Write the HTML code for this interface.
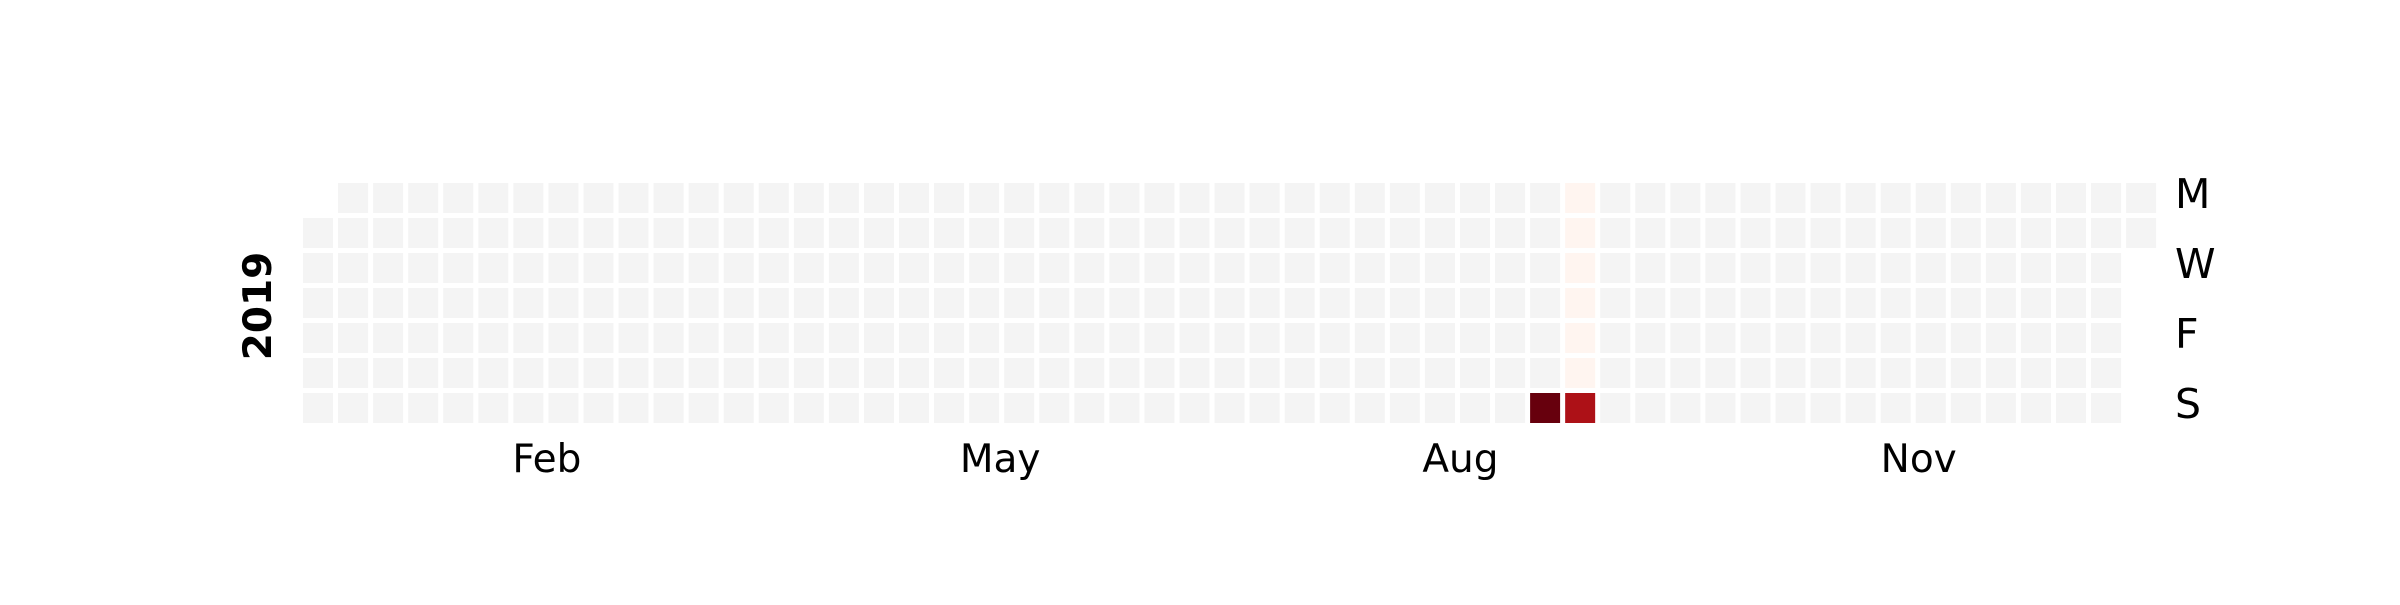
<!DOCTYPE html>
<html><head><meta charset="utf-8"><style>
html,body{margin:0;padding:0;background:#fff}
svg text{font-family:"DejaVu Sans","Liberation Sans",sans-serif}
</style></head><body>
<svg id="chart" width="2400" height="600" viewBox="0 0 2400 600" xmlns="http://www.w3.org/2000/svg">
<rect width="2400" height="600" fill="#fff"/>
<g id="cells"></g>
<g id="labels"></g>
<text x="0" y="0" transform="translate(271,306) rotate(-90)" text-anchor="middle" font-weight="bold" font-size="39">2019</text>
</svg>
<script>
const year = 2019;
const activeDates = ["2019-09-08","2019-09-09","2019-09-10","2019-09-11","2019-09-12","2019-09-13","2019-09-14","2019-09-15"];
const activeValues = [20,0,0,0,0,0,0,17];
const dayLabels = ["M","W","F","S"];
const dayLabelRows = [0,2,4,6];
const monthLabels = ["Feb","May","Aug","Nov"];
const monthIndex = [1,4,7,10];

const X0 = 303, Y0 = 183, PITCH = 35.06, CELL = 30;
const NS = "http://www.w3.org/2000/svg";
const stops = ["#fff5f0","#fee0d2","#fcbba1","#fc9272","#fb6a4a","#ef3b2c","#cb181d","#a50f15","#67000d"];
function hex(c){return [1,3,5].map(i=>parseInt(c.substr(i,2),16));}
function reds(t){t=Math.max(0,Math.min(1,t));const p=t*(stops.length-1);const i=Math.min(stops.length-2,Math.floor(p));const f=p-i;const a=hex(stops[i]),b=hex(stops[i+1]);return "rgb("+a.map((v,k)=>Math.round(v+(b[k]-v)*f)).join(",")+")";}
const vmax = Math.max(...activeValues);
const valMap = {};
activeDates.forEach((d,i)=>valMap[d]=activeValues[i]);
const jan1 = new Date(Date.UTC(year,0,1));
const startOffset = (jan1.getUTCDay()+6)%7;
function xOf(col){return X0+col*PITCH;}
function yOf(row){return Y0+row*35;}
const cells = document.getElementById('cells');
const monthCols = {};
for(let d=new Date(jan1); d.getUTCFullYear()===year; d.setUTCDate(d.getUTCDate()+1)){
  const doy = Math.round((d-jan1)/86400000);
  const idx = doy+startOffset;
  const col = Math.floor(idx/7), row = idx%7;
  const m = d.getUTCMonth();
  (monthCols[m]=monthCols[m]||[]).push(col);
  const key = d.toISOString().slice(0,10);
  const r = document.createElementNS(NS,'rect');
  
  
  r.setAttribute('x',xOf(col)); r.setAttribute('y',yOf(row));
  r.setAttribute('width',CELL); r.setAttribute('height',CELL);
  r.setAttribute('fill', key in valMap ? reds(valMap[key]/vmax) : '#f4f4f4');
  cells.appendChild(r);
}
const labels = document.getElementById('labels');
dayLabels.forEach((t,i)=>{
  const e=document.createElementNS(NS,'text');
  
  
  e.setAttribute('x',2175); e.setAttribute('y',yOf(dayLabelRows[i])+CELL/2+10);
  e.setAttribute('font-size','41'); e.textContent=t; labels.appendChild(e);
});
monthLabels.forEach((t,i)=>{
  const cols=monthCols[monthIndex[i]];
  const mean=cols.reduce((a,b)=>a+b,0)/cols.length;
  const e=document.createElementNS(NS,'text');
  
  
  e.setAttribute('x',xOf(mean)+CELL/2+16); e.setAttribute('y',472);
  e.setAttribute('text-anchor','middle');
  e.setAttribute('font-size','39'); e.textContent=t; labels.appendChild(e);
});
</script>
</body></html>
